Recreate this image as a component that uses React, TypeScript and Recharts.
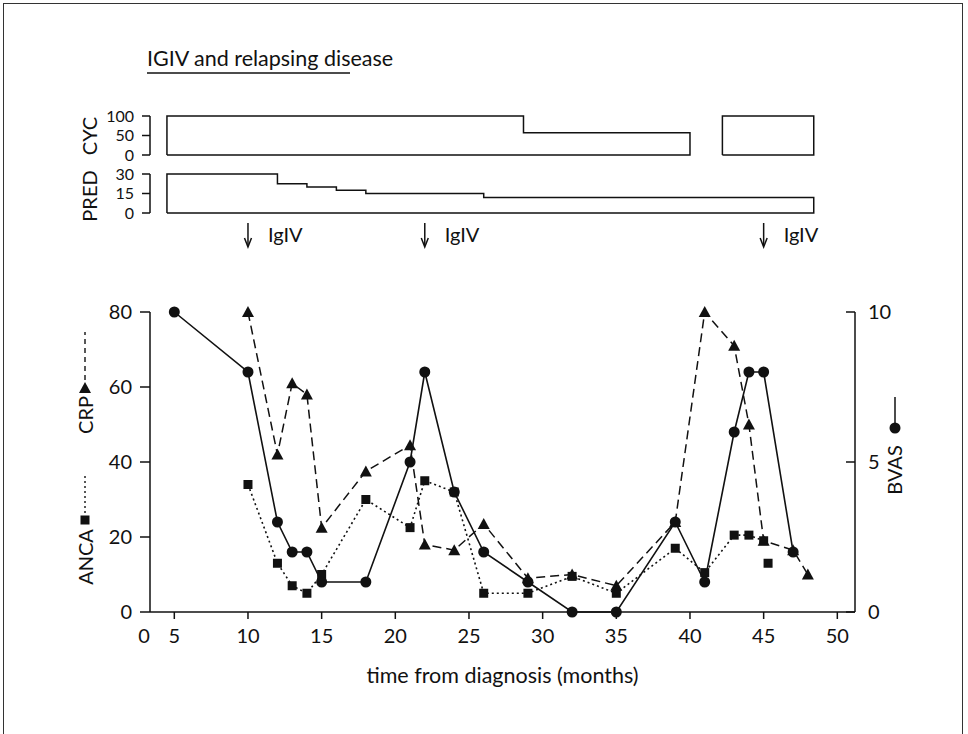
import React from "react";
import { ComposedChart, Line, XAxis, YAxis } from "recharts";

// months from diagnosis and values
const bvasMonths = [5, 10, 12, 13, 14, 15, 18, 21, 22, 24, 26, 29, 32, 35, 39, 41, 43, 44, 45, 47];
const bvasScores = [10, 8, 3, 2, 2, 1, 1, 5, 8, 4, 2, 1, 0, 0, 3, 1, 6, 8, 8, 2];

const crpMonths = [10, 12, 13, 14, 15, 18, 21, 22, 24, 26, 29, 32, 35, 39, 41, 43, 44, 45, 47, 48];
const crpValues = [80, 42, 61, 58, 22.5, 37.5, 44.5, 18, 16.5, 23.5, 9, 10, 7, 24, 80, 71, 50, 19, 16.5, 10];

const ancaMonths = [10, 12, 13, 14, 15, 18, 21, 22, 24, 26, 29, 32, 35, 39, 41, 43, 44, 45];
const ancaValues = [34, 13, 7, 5, 10, 30, 22.5, 35, 32, 5, 5, 9.5, 5, 17, 10.5, 20.5, 20.5, 19];
const ancaLoneMonths = [45.3];
const ancaLoneValues = [13];

// treatment schedules: month each dose starts, dose, month it stops
const cycStarts = [4.5, 28.7];
const cycDoses = [100, 57];
const cycEnd = 40;
const cyc2Starts = [42.2];
const cyc2Doses = [100];
const cyc2End = 48.4;
const predStarts = [4.5, 12, 14, 16, 18, 26];
const predDoses = [30, 22.5, 20, 17.5, 15, 12];
const predEnd = 48.4;

const igivMonths = [10, 22, 45];

const monthTicks = [5, 10, 15, 20, 25, 30, 35, 40, 45, 50];
const leftTicks = [0, 20, 40, 60, 80];
const rightTicks = [0, 5, 10];
const cycTicks = [0, 50, 100];
const predTicks = [0, 15, 30];

const X_MIN = 3.35;
const X_MAX = 51.2;
const FONT = "Lato, 'Open Sans', sans-serif";
const INK = "#111";

const toPoints = (ms: number[], vs: number[]) => ms.map((m, i) => ({ month: m, value: vs[i] }));

// closed outline of a step schedule (drawn with stepAfter)
function outline(starts: number[], doses: number[], end: number) {
  const pts = [{ month: starts[0], value: 0 }];
  starts.forEach((m, i) => pts.push({ month: m, value: doses[i] }));
  pts.push({ month: end, value: doses[doses.length - 1] });
  pts.push({ month: end, value: 0 });
  pts.push({ month: starts[0], value: 0 });
  return pts;
}

const bvas = toPoints(bvasMonths, bvasScores);
const crp = toPoints(crpMonths, crpValues);
const anca = toPoints(ancaMonths, ancaValues);
const ancaLone = toPoints(ancaLoneMonths, ancaLoneValues);
const cyc1 = outline(cycStarts, cycDoses, cycEnd);
const cyc2 = outline(cyc2Starts, cyc2Doses, cyc2End);
const pred = outline(predStarts, predDoses, predEnd);
const igiv = igivMonths.map((m) => ({ month: m, value: 0.5 }));

const tickText = { fill: INK, fontSize: 20, fontFamily: FONT };

const dotCircle = (p: any) => <circle key={p.index} cx={p.cx} cy={p.cy} r={5.5} fill={INK} />;
const dotSquare = (p: any) => (
  <rect key={p.index} x={p.cx - 4.5} y={p.cy - 4.5} width={9} height={9} fill={INK} />
);
const dotTriangle = (p: any) => (
  <polygon
    key={p.index}
    points={`${p.cx},${p.cy - 6} ${p.cx + 6},${p.cy + 5} ${p.cx - 6},${p.cy + 5}`}
    fill={INK}
  />
);
const dotArrow = (p: any) => (
  <g key={p.index}>
    <line x1={p.cx} x2={p.cx} y1={p.cy - 12} y2={p.cy + 11} stroke={INK} strokeWidth={1.5} />
    <path d={`M${p.cx - 3.5},${p.cy + 3} L${p.cx},${p.cy + 12} L${p.cx + 3.5},${p.cy + 3}`} fill="none" stroke={INK} strokeWidth={1.5} />
    <text x={p.cx + 20} y={p.cy + 7} fontSize={20} fontFamily={FONT} fill={INK}>
      IgIV
    </text>
  </g>
);

function MonthTick(props: any) {
  const { x, y, payload } = props;
  if (payload.value < 4) {
    return (
      <text x={x - 6} y={y + 31} textAnchor="middle" {...tickText}>
        0
      </text>
    );
  }
  return (
    <g>
      <line x1={x} x2={x} y1={y} y2={y + 7} stroke={INK} strokeWidth={1.5} />
      <text x={x} y={y + 31} textAnchor="middle" {...tickText}>
        {payload.value}
      </text>
    </g>
  );
}

function RightTick(props: any) {
  const { x, y, payload } = props;
  return (
    <g>
      <line x1={x - 13} x2={x - 22} y1={y} y2={y} stroke={INK} strokeWidth={1.5} />
      <text x={x} y={y + 7} textAnchor="start" {...tickText}>
        {payload.value}
      </text>
    </g>
  );
}

const layer: React.CSSProperties = { position: "absolute", left: 0, top: 0 };

function Panel({ top, bottom, domain, ticks, children }: any) {
  return (
    <div style={layer}>
      <ComposedChart width={968} height={734} margin={{ top, right: 113, bottom: 734 - bottom, left: 90 }}>
        <XAxis type="number" dataKey="month" domain={[X_MIN, X_MAX]} hide />
        <YAxis
          type="number"
          domain={domain}
          ticks={ticks}
          interval={0}
          width={60}
          axisLine={{ stroke: INK, strokeWidth: 1.5 }}
          tickSize={8}
          tickMargin={8}
          tickLine={{ stroke: INK, strokeWidth: 1.5 }}
          tick={{ ...tickText, fontSize: 16 }}
        />
        {children}
      </ComposedChart>
    </div>
  );
}

export default function App() {
  return (
    <div style={{ position: "absolute", left: 0, top: 0, width: 968, height: 734, background: "#fff", overflow: "hidden" }}>
      <div
        style={{
          position: "absolute",
          left: 3,
          top: 3,
          width: 960,
          height: 731,
          boxSizing: "border-box",
          borderLeft: "1.5px solid #333",
          borderTop: "1.5px solid #333",
          borderRight: "1.5px solid #333",
        }}
      />

      <Panel top={116} bottom={155} domain={[0, 100]} ticks={cycTicks}>
        <Line data={cyc1} dataKey="value" type="stepAfter" stroke={INK} strokeWidth={1.5} dot={false} isAnimationActive={false} />
        <Line data={cyc2} dataKey="value" type="stepAfter" stroke={INK} strokeWidth={1.5} dot={false} isAnimationActive={false} />
      </Panel>

      <Panel top={174} bottom={213} domain={[0, 30]} ticks={predTicks}>
        <Line data={pred} dataKey="value" type="stepAfter" stroke={INK} strokeWidth={1.5} dot={false} isAnimationActive={false} />
      </Panel>

      <div style={layer}>
        <ComposedChart width={968} height={734} margin={{ top: 222, right: 113, bottom: 734 - 248, left: 150 }}>
          <XAxis type="number" dataKey="month" domain={[X_MIN, X_MAX]} hide />
          <YAxis type="number" domain={[0, 1]} hide />
          <Line data={igiv} dataKey="value" stroke="none" dot={dotArrow} isAnimationActive={false} />
        </ComposedChart>
      </div>

      <div style={layer}>
        <ComposedChart width={968} height={734} margin={{ top: 312, right: 53, bottom: 82, left: 90 }}>
          <XAxis
            type="number"
            dataKey="month"
            domain={[X_MIN, X_MAX]}
            ticks={[X_MIN, ...monthTicks]}
            interval={0}
            height={40}
            tickSize={0}
            tickMargin={0}
            tickLine={false}
            axisLine={{ stroke: INK, strokeWidth: 1.5 }}
            tick={(p: any) => <MonthTick {...p} />}
            label={{ value: "time from diagnosis (months)", position: "bottom", offset: 16, fill: INK, fontSize: 21.5, fontFamily: FONT }}
          />
          <YAxis
            yAxisId="left"
            type="number"
            domain={[0, 80]}
            ticks={leftTicks}
            interval={0}
            width={60}
            tickSize={10}
            tickMargin={8}
            axisLine={{ stroke: INK, strokeWidth: 1.5 }}
            tickLine={{ stroke: INK, strokeWidth: 1.5 }}
            tick={tickText}
          />
          <YAxis
            yAxisId="right"
            orientation="right"
            type="number"
            domain={[0, 10]}
            ticks={rightTicks}
            interval={0}
            width={60}
            tickSize={0}
            tickMargin={13}
            tickLine={false}
            axisLine={{ stroke: INK, strokeWidth: 1.5 }}
            tick={(p: any) => <RightTick {...p} />}
          />
          <Line yAxisId="left" data={anca} dataKey="value" type="linear" stroke={INK} strokeWidth={1.6} strokeDasharray="2 3" dot={dotSquare} isAnimationActive={false} />
          <Line yAxisId="left" data={ancaLone} dataKey="value" stroke="none" dot={dotSquare} isAnimationActive={false} />
          <Line yAxisId="left" data={crp} dataKey="value" type="linear" stroke={INK} strokeWidth={1.5} strokeDasharray="9 5" dot={dotTriangle} isAnimationActive={false} />
          <Line yAxisId="right" data={bvas} dataKey="value" type="linear" stroke={INK} strokeWidth={1.6} dot={dotCircle} isAnimationActive={false} />
        </ComposedChart>
      </div>

      <svg width={968} height={734} style={{ ...layer, pointerEvents: "none" }}>
        <g fontFamily={FONT} fill={INK} fontSize={20}>
          <text x={147} y={66} fontSize={21.5}>IGIV and relapsing disease</text>
          <line x1={147} x2={350} y1={73} y2={73} stroke={INK} strokeWidth={1.5} />

          <text transform="translate(97,136) rotate(-90)" textAnchor="middle">CYC</text>
          <text transform="translate(97,196) rotate(-90)" textAnchor="middle">PRED</text>

          <text transform="translate(93,415) rotate(-90)" textAnchor="middle">CRP</text>
          <polygon points="85,382 91,393 79,393" fill={INK} />
          <line x1={85} x2={85} y1={380} y2={332} stroke={INK} strokeWidth={1.4} strokeDasharray="5 4" />

          <text transform="translate(93,557) rotate(-90)" textAnchor="middle">ANCA</text>
          <rect x={80.5} y={515.5} width={9} height={9} fill={INK} />
          <line x1={85} x2={85} y1={513} y2={475} stroke={INK} strokeWidth={1.4} strokeDasharray="2 3" />

          <text transform="translate(902,470) rotate(-90)" textAnchor="middle">BVAS</text>
          <circle cx={895} cy={428} r={5.5} fill={INK} />
          <line x1={895} x2={895} y1={428} y2={397} stroke={INK} strokeWidth={1.5} />
        </g>
      </svg>
    </div>
  );
}
